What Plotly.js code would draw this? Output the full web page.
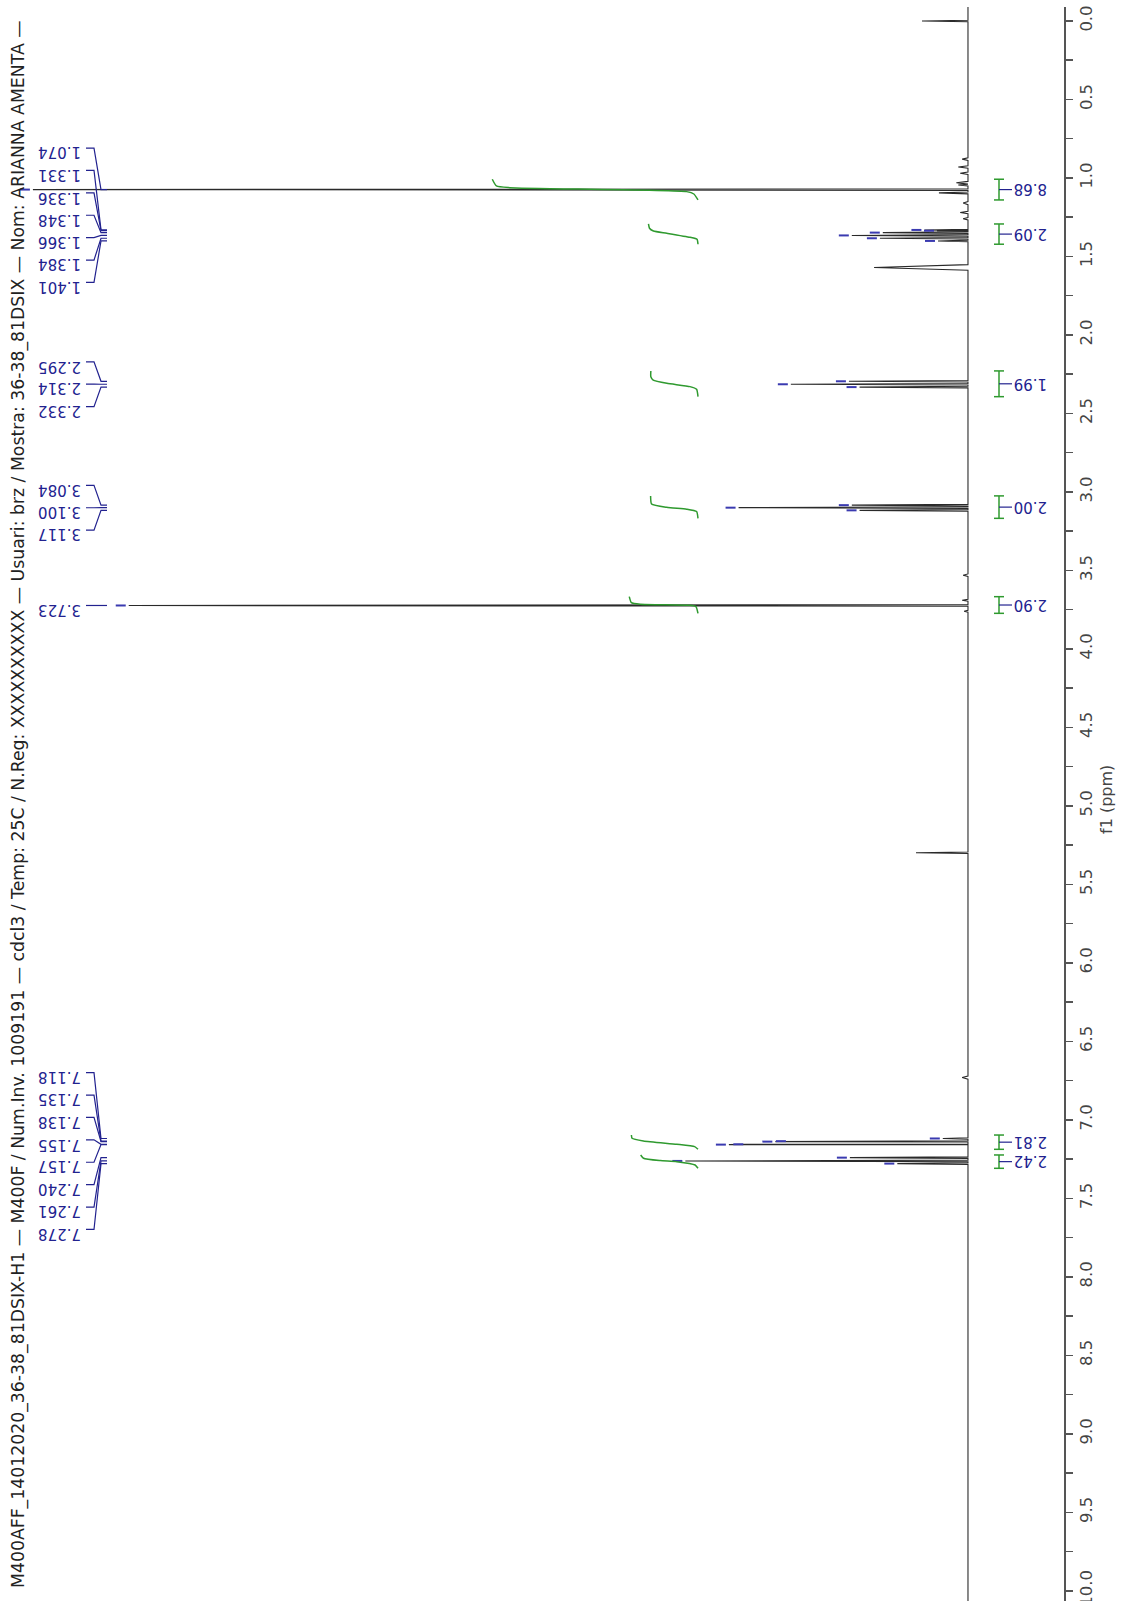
<!DOCTYPE html>
<html><head><meta charset="utf-8">
<script src="https://cdn.plot.ly/plotly-3.0.1.min.js"></script>
<style>html,body{margin:0;padding:0;background:#fff;overflow:hidden} #chart{width:1126px;height:1601px;}</style>
</head><body><div id="chart"></div>
<script>
// ---- spectrum peaks (ppm, intensity, half-width in ppm) ----
const peakPpm    = [0.000, 0.880, 0.930, 0.970, 1.030, 1.045, 1.074, 1.095, 1.160, 1.220, 1.260,
                    1.331, 1.336, 1.348, 1.366, 1.384, 1.401, 1.570,
                    2.295, 2.314, 2.332, 3.084, 3.100, 3.117, 3.530, 3.690, 3.723, 3.760,
                    5.298, 6.730, 7.118, 7.135, 7.138, 7.155, 7.157, 7.240, 7.261, 7.278];
const peakHeight = [4.75, 0.6, 1.0, 0.8, 1.2, 1.0, 96.6, 3.0, 0.5, 0.8, 0.5,
                    4.5, 3.2, 8.8, 12.0, 9.1, 3.1, 9.7,
                    12.3, 18.3, 11.2, 12.0, 23.7, 11.2, 0.5, 0.6, 86.7, 0.4,
                    5.37, 0.6, 2.6, 18.5, 19.9, 22.9, 24.7, 12.2, 29.2, 7.3];
const peakHalfWidth = [0.005, 0.008, 0.008, 0.008, 0.008, 0.006, 0.005, 0.006, 0.01, 0.008, 0.008,
                    0.004, 0.002, 0.005, 0.005, 0.005, 0.005, 0.018,
                    0.005, 0.005, 0.005, 0.005, 0.005, 0.005, 0.008, 0.006, 0.005, 0.006,
                    0.005, 0.01, 0.005, 0.0015, 0.0015, 0.001, 0.001, 0.005, 0.005, 0.005];

// ---- picked peak labels, grouped as in the picture ----
const labelGroups = [
  [1.074, 1.331, 1.336, 1.348, 1.366, 1.384, 1.401],
  [2.295, 2.314, 2.332],
  [3.084, 3.100, 3.117],
  [3.723],
  [7.118, 7.135, 7.138, 7.155, 7.157, 7.240, 7.261, 7.278]
];

// ---- integrals: value, and curve points (ppm, fraction of value) ----
const integralValues = [8.68, 2.09, 1.99, 2.00, 2.90, 2.81, 2.42];
const integralPpm = [
  [1.140, 1.102, 1.087, 1.062, 1.051, 1.008],
  [1.422, 1.390, 1.378, 1.352, 1.338, 1.320, 1.293],
  [2.393, 2.346, 2.329, 2.308, 2.287, 2.266, 2.229],
  [3.168, 3.125, 3.110, 3.098, 3.076, 3.025],
  [3.773, 3.730, 3.722, 3.715, 3.705, 3.667],
  [7.187, 7.170, 7.155, 7.134, 7.117, 7.096],
  [7.308, 7.287, 7.266, 7.259, 7.244, 7.223]
];
const integralFrac = [
  [0, 0.02, 0.055, 0.915, 0.98, 1.0],
  [0, 0.02, 0.16, 0.63, 0.90, 0.98, 1.0],
  [0, 0.03, 0.17, 0.66, 0.95, 1.0, 1.0],
  [0, 0.03, 0.24, 0.66, 0.98, 1.0],
  [0, 0.03, 0.12, 0.84, 0.97, 1.0],
  [0, 0.05, 0.32, 0.82, 0.99, 1.0],
  [0, 0.05, 0.37, 0.66, 0.95, 1.0]
];

const titleText = 'M400AFF_14012020_36-38_81DSIX-H1 \u2014 M400F / Num.Inv. 1009191 \u2014 cdcl3 / Temp: 25C / N.Reg: XXXXXXXXXX \u2014 Usuari: brz / Mostra: 36-38_81DSIX \u2014 Nom: ARIANNA AMENTA \u2014';
const axisTitle = 'f1 (ppm)';

// ---- layout constants ----
const W = 1126, H = 1601;
const M = {l: 0, r: 62, t: 7, b: 0};
const PW = W - M.l - M.r;             // plot width in px
const PH = H - M.t - M.b;
const xRange = [100, -9.92];          // intensity axis (reversed)
const UNIT = (xRange[0] - xRange[1]) / PW;  // intensity per px
const yRange = [10.064, -0.089];
const intRange = [698 / 23.7, -(PW - 698) / 23.7];
const BLUE = '#22228f';
const GREEN = '#2f9a2f';
const FONT = 'DejaVu Sans, Verdana, sans-serif';
const pp = px => px / PW;

// ---- spectrum trace ----
const order = peakPpm.map((p, i) => i).sort((a, b) => peakPpm[a] - peakPpm[b]);
const sx = [0], sy = [yRange[1]];
order.forEach(i => {
  const p = peakPpm[i], h = peakHeight[i], w = peakHalfWidth[i];
  sx.push(0, h, 0); sy.push(p - w, p, p + w);
});
sx.push(0); sy.push(yRange[0]);

const traces = [];
traces.push({type: 'scatter', mode: 'lines', x: sx, y: sy, xaxis: 'x', yaxis: 'y',
  line: {color: '#2a2a2a', width: 1.1}, hoverinfo: 'skip', showlegend: false});

// ---- peak markers (blue dashes at the tips) ----
const mx = [], my = [];
labelGroups.flat().forEach(p => {
  const i = peakPpm.indexOf(p);
  const h = peakHeight[i];
  mx.push(h + 13 * UNIT, h + 3 * UNIT, null); my.push(p, p, null);
});
traces.push({type: 'scatter', mode: 'lines', x: mx, y: my, xaxis: 'x', yaxis: 'y',
  line: {color: '#3a3ab0', width: 2}, hoverinfo: 'skip', showlegend: false});

// ---- integral curves ----
integralValues.forEach((v, k) => {
  traces.push({type: 'scatter', mode: 'lines',
    x: integralFrac[k].map(f => f * v), y: integralPpm[k], xaxis: 'x2', yaxis: 'y',
    line: {color: GREEN, width: 1.5, shape: 'spline', smoothing: 0.5},
    hoverinfo: 'skip', showlegend: false});
});

// ---- shapes & annotations ----
const shapes = [], annotations = [];
const spacingPpm = 22.4 / 157;   // label spacing
labelGroups.forEach(g => {
  const c = (g[0] + g[g.length - 1]) / 2;
  g.forEach((p, i) => {
    const yl = c + (i - (g.length - 1) / 2) * spacingPpm;
    shapes.push({type: 'path', xref: 'paper', yref: 'y',
      path: `M ${pp(86)},${yl} L ${pp(94)},${yl} L ${pp(101)},${p} L ${pp(107)},${p}`,
      line: {color: BLUE, width: 1.2}});
    annotations.push({xref: 'paper', yref: 'y', x: pp(83), y: yl, xanchor: 'right', yanchor: 'middle',
      yshift: -4.5, text: p.toFixed(3), showarrow: false, textangle: 180,
      font: {family: FONT, size: 15, color: BLUE}});
  });
});

integralValues.forEach((v, k) => {
  const ys = integralPpm[k];
  const a = ys[0], b = ys[ys.length - 1], m = (a + b) / 2;
  shapes.push({type: 'line', xref: 'paper', yref: 'y', x0: pp(999), x1: pp(999), y0: a, y1: b, line: {color: GREEN, width: 1.5}});
  shapes.push({type: 'line', xref: 'paper', yref: 'y', x0: pp(994), x1: pp(1004), y0: a, y1: a, line: {color: GREEN, width: 1.5}});
  shapes.push({type: 'line', xref: 'paper', yref: 'y', x0: pp(994), x1: pp(1004), y0: b, y1: b, line: {color: GREEN, width: 1.5}});
  shapes.push({type: 'line', xref: 'paper', yref: 'y', x0: pp(999), x1: pp(1012), y0: m, y1: m, line: {color: BLUE, width: 1.2}});
  annotations.push({xref: 'paper', yref: 'y', x: pp(1012), y: m, xanchor: 'left', yanchor: 'middle',
    text: v.toFixed(2), showarrow: false, textangle: 180,
    font: {family: FONT, size: 15, color: BLUE}});
});

annotations.push({xref: 'paper', yref: 'paper', x: pp(18), y: (H - 1590 - M.b) / PH,
  xanchor: 'center', yanchor: 'bottom', text: titleText, showarrow: false, textangle: -90,
  font: {family: FONT, size: 17.3, color: '#222'}});

annotations.push({xref: 'paper', yref: 'paper', x: pp(1106), y: (H - 800 - M.b) / PH,
  xanchor: 'center', yanchor: 'middle', text: axisTitle, showarrow: false, textangle: -90,
  font: {family: FONT, size: 16, color: '#444'}});

const layout = {
  width: W, height: H, margin: M,
  paper_bgcolor: '#fff', plot_bgcolor: '#fff', showlegend: false,
  xaxis: {range: xRange, visible: false, fixedrange: true},
  xaxis2: {range: intRange, overlaying: 'x', visible: false, fixedrange: true},
  yaxis: {range: yRange, side: 'right', showline: true, linecolor: '#555', linewidth: 1.5,
    ticks: 'outside', ticklen: 7, tickwidth: 1.5, tickcolor: '#555',
    tick0: 0, dtick: 0.5, tickformat: '.1f', tickangle: -90, ticklabelstandoff: 0,
    ticklabeloverflow: 'allow',
    tickfont: {family: FONT, size: 16.5, color: '#444'},
    minor: {dtick: 0.25, ticks: 'outside', ticklen: 7, tickwidth: 1.5, tickcolor: '#555', showgrid: false},
    showgrid: false, zeroline: false, fixedrange: true},
  shapes: shapes, annotations: annotations
};

Plotly.newPlot('chart', traces, layout, {staticPlot: true, displayModeBar: false});
</script></body></html>
